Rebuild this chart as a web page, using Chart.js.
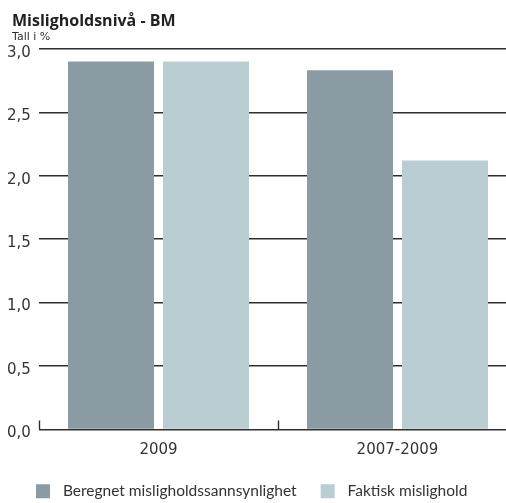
<!DOCTYPE html>
<html>
<head>
<meta charset="utf-8">
<script src="https://cdn.jsdelivr.net/npm/chart.js@4/dist/chart.umd.min.js"></script>
<style>
  html, body { margin: 0; padding: 0; background: #fff; overflow: hidden; }
  #wrap { position: relative; width: 506px; height: 503px; overflow: hidden; }
  #wrap canvas { position: absolute; left: 0; top: 0; }
</style>
</head>
<body>
<div id="wrap"><canvas id="c" width="520" height="509"></canvas></div>
<script>
// Mislighold: estimated default probability vs. actual default, in percent
const categories = ['2009', '2007-2009'];
const beregnet = [2.9, 2.83];
const faktisk = [2.9, 2.12];
const seriesNames = ['Beregnet misligholdssannsynlighet', 'Faktisk mislighold'];
const yTickLabels = ['0,0', '0,5', '1,0', '1,5', '2,0', '2,5', '3,0'];

const INK = '#2f2f2f';
const TEXT = 'Lato, "Open Sans", sans-serif';
const NUM = '"DejaVu Sans", sans-serif';

// short upward marks on the baseline at the category boundaries
const boundaryTicks = {
  id: 'boundaryTicks',
  afterDatasetsDraw(chart) {
    const x = chart.scales.x, y = chart.scales.y;
    const n = categories.length;
    const base = y.getPixelForValue(0);
    const ctx = chart.ctx;
    ctx.save();
    ctx.strokeStyle = INK;
    ctx.lineWidth = 1.4;
    for (let i = 0; i <= n; i++) {
      const px = Math.round(x.left + i * x.width / n) + 0.5;
      ctx.beginPath();
      ctx.moveTo(px, base);
      ctx.lineTo(px, base - 9);
      ctx.stroke();
    }
    ctx.restore();
  }
};

new Chart(document.getElementById('c'), {
  type: 'bar',
  data: {
    labels: categories,
    datasets: [
      { label: seriesNames[0], data: beregnet, backgroundColor: '#8a9ba4' },
      { label: seriesNames[1], data: faktisk, backgroundColor: '#b9cdd3' }
    ]
  },
  options: {
    responsive: false,
    animation: false,
    events: [],
    categoryPercentage: 0.795,
    barPercentage: 0.905,
    layout: { padding: { left: 12, right: 3, top: 0, bottom: 0 } },
    plugins: {
      title: {
        display: true,
        text: 'Misligholdsnivå - BM',
        align: 'start',
        color: '#222',
        font: { family: '"Open Sans", sans-serif', size: 16, weight: 'bold', lineHeight: 1.1 },
        padding: { top: 13, bottom: 0 }
      },
      subtitle: {
        display: true,
        text: 'Tall i %',
        align: 'start',
        color: '#333',
        font: { family: NUM, size: 11 },
        padding: { top: 0, bottom: 5 }
      },
      legend: {
        position: 'bottom',
        align: 'start',
        labels: {
          boxWidth: 14,
          boxHeight: 14,
          padding: 24,
          color: '#333',
          font: { family: TEXT, size: 15.5 },
          generateLabels(chart) {
            const items = Chart.defaults.plugins.legend.labels.generateLabels(chart);
            items.forEach(it => { it.text = '\u2004' + it.text; it.lineWidth = 0; });
            return items;
          }
        }
      },
      tooltip: { enabled: false }
    },
    scales: {
      x: {
        afterFit(scale) { scale.height = 30; },
        grid: { display: false, drawTicks: false },
        border: { display: false },
        ticks: {
          color: '#333',
          padding: 12,
          font: { family: NUM, size: 15 }
        }
      },
      y: {
        min: 0,
        max: 3,
        z: 1,
        afterFit(scale) { scale.width = 27; },
        ticks: {
          stepSize: 0.5,
          mirror: true,
          padding: -32,
          labelOffset: 4,
          color: '#333',
          font: { family: NUM, size: 15 },
          callback: (v, i) => yTickLabels[i]
        },
        grid: { color: INK, lineWidth: 1.4, drawTicks: false },
        border: { display: false }
      }
    }
  },
  plugins: [boundaryTicks]
});
</script>
</body>
</html>
